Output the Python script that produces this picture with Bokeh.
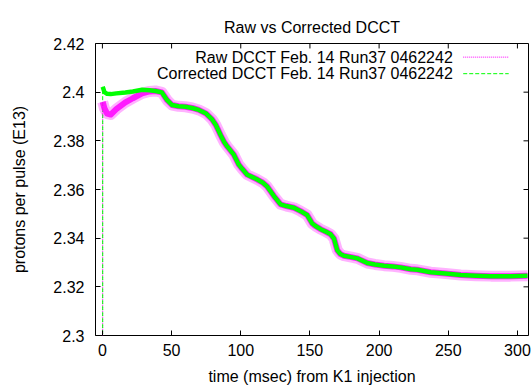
from bokeh.plotting import figure
from bokeh.models import FixedTicker, Label, CustomJSTickFormatter, Range1d
from bokeh.embed import file_html
from bokeh.resources import INLINE

# ---------------- data ----------------
time_ms = [-0.2, 0.2, 1.5, 3.4, 6, 10, 16.6, 22, 28.7, 34, 38.3, 43, 46.8, 50.4, 55, 60,
           65, 69.7, 75, 79.3, 82, 85.4, 88, 90.2, 95, 98.6, 101, 104.7, 108, 112, 116,
           119, 124, 128.8, 133, 138.4, 143, 148, 151.7, 154, 157.7, 161, 165, 167.4,
           169.8, 172, 174.6, 180, 184.3, 191.5, 197, 203.6, 210, 215.6, 222.9, 227.7,
           237.3, 248, 259, 270, 280.8, 295, 307.3]

corrected = [0.0, 2.4022, 2.4000, 2.3993, 2.3992, 2.3995, 2.3999, 2.4003, 2.4010, 2.4008,
             2.4005, 2.3999, 2.3967, 2.3947, 2.3942, 2.3940, 2.3935, 2.3927, 2.3912,
             2.3888, 2.3865, 2.3824, 2.3795, 2.3777, 2.3743, 2.3702, 2.3685, 2.3661,
             2.3652, 2.3641, 2.3628, 2.3613, 2.3573, 2.3539, 2.3532, 2.3525, 2.3512,
             2.3495, 2.3460, 2.3450, 2.3437, 2.3428, 2.3416, 2.3398, 2.3350, 2.3335,
             2.3328, 2.3322, 2.3317, 2.3298, 2.3292, 2.3287, 2.3284, 2.3280, 2.3272,
             2.3270, 2.3260, 2.3255, 2.3249, 2.3246, 2.3244, 2.3244, 2.3246]

raw = [0.0, 2.3960, 2.3933, 2.3912, 2.3908, 2.3930, 2.3958, 2.3975, 2.3995, 2.4003,
       2.4005, 2.3999, 2.3967, 2.3947, 2.3942, 2.3940, 2.3935, 2.3927, 2.3912,
       2.3888, 2.3865, 2.3824, 2.3795, 2.3777, 2.3743, 2.3702, 2.3685, 2.3661,
       2.3652, 2.3641, 2.3628, 2.3613, 2.3573, 2.3539, 2.3532, 2.3525, 2.3512,
       2.3495, 2.3460, 2.3450, 2.3437, 2.3428, 2.3416, 2.3398, 2.3350, 2.3335,
       2.3328, 2.3322, 2.3317, 2.3298, 2.3292, 2.3287, 2.3284, 2.3280, 2.3272,
       2.3270, 2.3260, 2.3255, 2.3249, 2.3246, 2.3244, 2.3244, 2.3246]

x_ticks = [0, 50, 100, 150, 200, 250, 300]
y_ticks = [2.30, 2.32, 2.34, 2.36, 2.38, 2.40, 2.42]

raw_label = "Raw DCCT Feb. 14 Run37 0462242"
corr_label = "Corrected DCCT Feb. 14 Run37 0462242"
title_text = "Raw vs Corrected DCCT"
x_title = "time (msec) from K1 injection"
y_title = "protons per pulse (E13)"

# ---------------- styling ----------------
FONT = "Liberation Sans"
MAGENTA = "#ff00ff"
GREEN = "#00ff00"
X0, X1 = -5, 308
Y0, Y1 = 2.30, 2.42
W, H = 532, 387
BL, BR, BT, BB = 95, 4, 43, 50
TICK_PX = 5

p = figure(width=W, height=H, output_backend="svg", toolbar_location=None,
           x_range=Range1d(X0, X1), y_range=Range1d(Y0, Y1),
           min_border_left=BL, min_border_right=BR, min_border_top=BT, min_border_bottom=BB)
p.background_fill_color = "white"
p.border_fill_color = "white"
p.outline_line_color = "black"
p.outline_line_width = 1
p.grid.visible = False

p.title.text = title_text
p.title.align = "center"
p.title.text_font = FONT
p.title.text_font_size = "16px"
p.title.text_font_style = "normal"
p.title.text_color = "black"
p.title.standoff = 15

fmt = CustomJSTickFormatter(code="""
    let s = tick.toFixed(2);
    s = s.replace(/0+$/, '').replace(/\\.$/, '');
    return s;
""")

def style_axis(ax, ticks):
    ax.ticker = FixedTicker(ticks=ticks)
    ax.axis_line_color = None
    ax.major_tick_in = TICK_PX
    ax.major_tick_out = 0
    ax.major_tick_line_color = "black"
    ax.minor_tick_line_color = None
    ax.major_label_text_font = FONT
    ax.major_label_text_color = "black"
    ax.major_label_text_font_size = "16px"
    ax.axis_label_text_font = FONT
    ax.axis_label_text_font_size = "16px"
    ax.axis_label_text_font_style = "normal"
    ax.axis_label_text_color = "black"

xa = p.xaxis[0]
style_axis(xa, x_ticks)
xa.axis_label = x_title
xa.major_label_standoff = 8
xa.axis_label_standoff = 9

ya = p.yaxis[0]
style_axis(ya, y_ticks)
ya.formatter = fmt
ya.axis_label = y_title
ya.major_label_standoff = 11
ya.axis_label_standoff = 22

# mirrored ticks on top and right border (gnuplot style)
frame_w = W - BL - BR
frame_h = H - BT - BB
dy_tick = TICK_PX * (Y1 - Y0) / frame_h
dx_tick = TICK_PX * (X1 - X0) / frame_w
p.segment(x0=x_ticks, x1=x_ticks, y0=[Y1] * len(x_ticks), y1=[Y1 - dy_tick] * len(x_ticks),
          line_color="black", line_width=1)
p.segment(x0=[X1] * len(y_ticks), x1=[X1 - dx_tick] * len(y_ticks), y0=y_ticks, y1=y_ticks,
          line_color="black", line_width=1)

# ---------------- series ----------------
# injection jump (thin dashed/dotted, as in the reference)
p.line(time_ms[:2], raw[:2], line_color=MAGENTA, line_width=1, line_dash="1 1")
p.line(time_ms[:2], corrected[:2], line_color=GREEN, line_width=1, line_dash="4 2")
# noisy bands
p.line(time_ms[1:], raw[1:], line_color=MAGENTA, line_width=11, line_alpha=0.3,
       line_join="round")
p.line(time_ms[1:], raw[1:], line_color=MAGENTA, line_width=6, line_alpha=0.85,
       line_join="round")
p.line(time_ms[1:], corrected[1:], line_color=GREEN, line_width=4.5, line_join="round")

# ---------------- key (gnuplot style: text then sample) ----------------
key_text_x = 253.5
key_line_x = [260.8, 293.7]
key_rows_y = [2.4144, 2.4076]
for lbl, yy in zip([raw_label, corr_label], key_rows_y):
    p.add_layout(Label(x=key_text_x, y=yy, text=lbl, text_align="right",
                       text_baseline="middle", text_font=FONT, text_font_size="16px",
                       text_color="black"))
p.line(key_line_x, [key_rows_y[0]] * 2, line_color=MAGENTA, line_width=1, line_dash="1 1")
p.line(key_line_x, [key_rows_y[1]] * 2, line_color=GREEN, line_width=1, line_dash="4 2")

open("out.html", "w").write(file_html(p, INLINE))
